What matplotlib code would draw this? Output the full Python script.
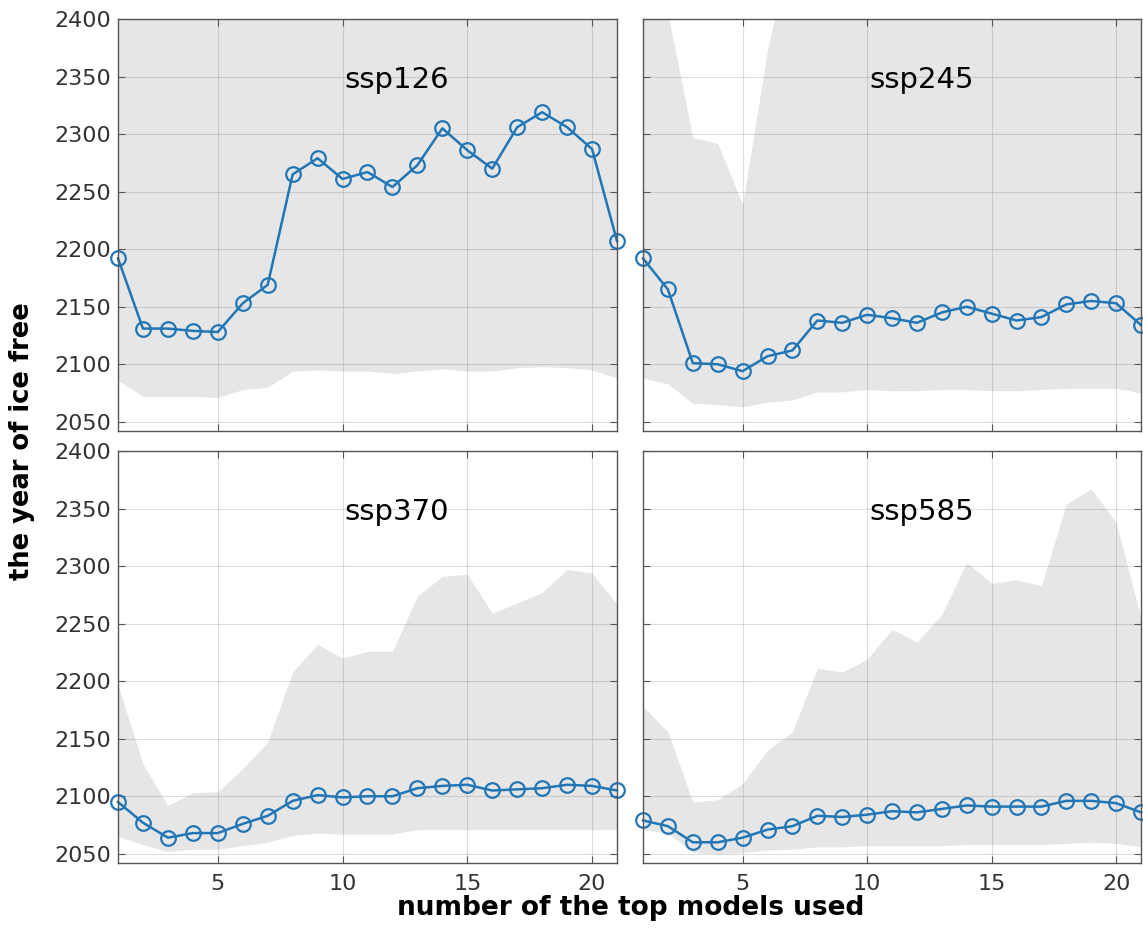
import matplotlib
matplotlib.use("Agg")
import matplotlib.pyplot as plt
import numpy as np

# number of top-ranked models used in the ensemble
n_models = list(range(1, 22))

scenarios = ["ssp126", "ssp245", "ssp370", "ssp585"]

# ensemble-mean year of ice-free Arctic
ssp126_mean = [2192, 2131, 2131, 2129, 2128, 2153, 2169, 2265, 2279, 2261, 2267,
               2254, 2273, 2305, 2286, 2270, 2306, 2319, 2306, 2287, 2207]
ssp245_mean = [2192, 2165, 2101, 2100, 2094, 2107, 2112, 2138, 2136, 2143, 2140,
               2136, 2145, 2150, 2144, 2138, 2141, 2152, 2155, 2153, 2134]
ssp370_mean = [2095, 2077, 2064, 2068, 2068, 2076, 2083, 2096, 2101, 2099, 2100,
               2100, 2107, 2109, 2110, 2105, 2106, 2107, 2110, 2109, 2105]
ssp585_mean = [2079, 2074, 2060, 2060, 2064, 2071, 2074, 2083, 2082, 2084, 2087,
               2086, 2089, 2092, 2091, 2091, 2091, 2096, 2096, 2094, 2086]

# upper edge of the model spread
ssp126_upper = [2480, 2470, 2465, 2460, 2460, 2470, 2480, 2490, 2500, 2500, 2500,
                2500, 2500, 2510, 2510, 2510, 2510, 2520, 2520, 2510, 2490]
ssp245_upper = [2440, 2405, 2297, 2292, 2239, 2373, 2470, 2480, 2480, 2480, 2480,
                2480, 2480, 2480, 2480, 2480, 2480, 2480, 2480, 2480, 2470]
ssp370_upper = [2197, 2128, 2092, 2103, 2104, 2124, 2147, 2208, 2232, 2220, 2226,
                2226, 2274, 2291, 2293, 2259, 2268, 2277, 2297, 2294, 2267]
ssp585_upper = [2178, 2156, 2095, 2097, 2111, 2140, 2156, 2211, 2208, 2219, 2245,
                2234, 2258, 2303, 2285, 2288, 2283, 2354, 2367, 2338, 2255]

# lower edge of the model spread
ssp126_lower = [2086, 2072, 2072, 2072, 2071, 2078, 2080, 2094, 2095, 2094, 2094,
                2092, 2094, 2096, 2094, 2094, 2097, 2098, 2097, 2095, 2088]
ssp245_lower = [2088, 2083, 2066, 2065, 2063, 2067, 2069, 2076, 2076, 2078, 2077,
                2077, 2078, 2078, 2077, 2077, 2078, 2079, 2079, 2079, 2075]
ssp370_lower = [2065, 2058, 2052, 2054, 2054, 2057, 2060, 2066, 2068, 2067, 2067,
                2067, 2071, 2071, 2071, 2071, 2071, 2071, 2071, 2071, 2071]
ssp585_lower = [2071, 2068, 2051, 2050, 2051, 2053, 2054, 2056, 2056, 2057, 2057,
                2057, 2057, 2058, 2058, 2058, 2058, 2059, 2060, 2059, 2056]

means = [ssp126_mean, ssp245_mean, ssp370_mean, ssp585_mean]
uppers = [ssp126_upper, ssp245_upper, ssp370_upper, ssp585_upper]
lowers = [ssp126_lower, ssp245_lower, ssp370_lower, ssp585_lower]

x_ticks = [5, 10, 15, 20]
y_ticks = [2050, 2100, 2150, 2200, 2250, 2300, 2350, 2400]

line_color = "#2176b5"
band_color = "#e6e6e6"
spine_color = "#555555"
text_color = "#333333"

plt.rcParams["font.family"] = ["DejaVu Sans"]

W, H = 1143, 941
fig = plt.figure(figsize=(W / 100, H / 100), dpi=100)

# panel rectangles in pixels: (left, top, right, bottom)
boxes = [(118, 19, 617, 431), (643, 19, 1141, 431),
         (118, 451, 617, 863), (643, 451, 1141, 863)]

for i, (name, m, up, lo) in enumerate(zip(scenarios, means, uppers, lowers)):
    l, t, r, b = boxes[i]
    ax = fig.add_axes([l / W, (H - b) / H, (r - l) / W, (b - t) / H])
    ax.fill_between(n_models, lo, up, color=band_color, linewidth=0, zorder=1)
    ax.plot(n_models, m, color=line_color, linewidth=1.8, marker="o",
            markersize=10.5, markerfacecolor="none", markeredgewidth=1.6,
            zorder=4, clip_on=False)
    ax.set_xlim(1, 21)
    ax.set_ylim(2042, 2400)
    ax.set_xticks(x_ticks)
    ax.set_yticks(y_ticks)
    ax.set_axisbelow(False)
    ax.grid(True, color="#262626", alpha=0.15, linewidth=0.8, zorder=2)
    ax.tick_params(direction="in", length=5, width=0.8, colors=spine_color,
                   labelcolor=text_color, labelsize=16, top=True, right=True)
    ax.tick_params(axis="x", pad=8)
    ax.tick_params(axis="y", pad=5)
    for s in ax.spines.values():
        s.set_color(spine_color)
        s.set_linewidth(1.0)
        s.set_zorder(5)
    if i < 2:
        ax.set_xticklabels([])
    if i % 2 == 1:
        ax.set_yticklabels([])
    ax.text(0.559, 0.852, name, transform=ax.transAxes, ha="center",
            va="center", fontsize=21, color="black", zorder=6)

fig.text(631 / W, (H - 908) / H, "number of the top models used",
         ha="center", va="center", fontsize=19, fontweight="bold")
fig.text(22 / W, (H - 441) / H, "the year of ice free", rotation=90,
         ha="center", va="center", fontsize=18.5, fontweight="bold")

fig.savefig("out.png", dpi=100, facecolor="white")
